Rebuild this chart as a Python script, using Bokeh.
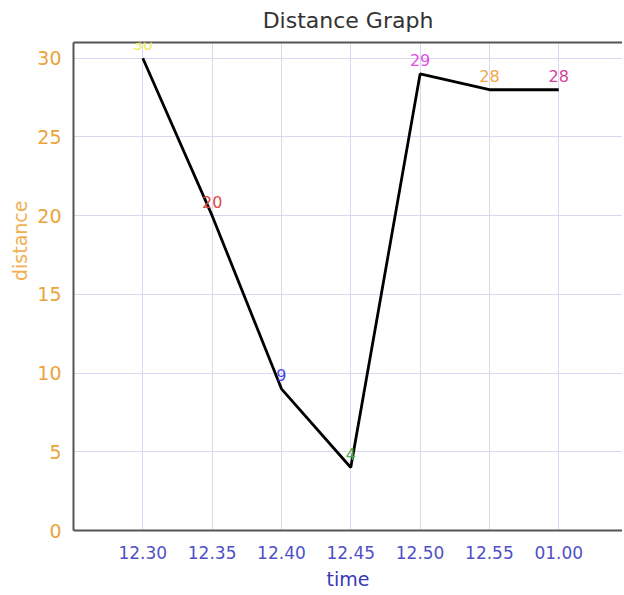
from bokeh.plotting import figure
from bokeh.models import ColumnDataSource, FixedTicker, LinearAxis, Range1d, LabelSet, Title
from bokeh.core.properties import value
from bokeh.embed import file_html
from bokeh.resources import INLINE

times = ["12.30", "12.35", "12.40", "12.45", "12.50", "12.55", "01.00"]
distance = [30, 20, 9, 4, 29, 28, 28]
label_colors = ["#EEEE55", "#E04848", "#4A4AE0", "#4CA64C", "#E050E0", "#F0A848", "#D0449A"]

idx = list(range(len(times)))
src = ColumnDataSource(dict(x=idx, y=distance, txt=[str(v) for v in distance], c=label_colors))

FONT = "DejaVu Sans"

p = figure(frame_width=549, frame_height=488, output_backend="svg", toolbar_location=None,
           x_range=Range1d(-1, 6.92), y_range=Range1d(0, 31),
           min_border_left=73, min_border_right=0, min_border_top=0, min_border_bottom=0,
           title="Distance Graph")
p.outline_line_color = None
p.background_fill_color = "white"
p.border_fill_color = "white"

p.title.align = "center"
p.title.vertical_align = "top"
p.title.text_font = FONT
p.title.text_font_size = "22px"
p.title.text_font_style = "normal"
p.title.text_color = "#333333"
p.title.offset = 0
p.title.standoff = 15

p.line("x", "y", source=src, line_color="black", line_width=2.8)
labels = LabelSet(x="x", y="y", text="txt", source=src, text_color="c", text_align="center",
                  text_baseline="bottom", y_offset=8, text_font=value(FONT), text_font_size="16px")
p.add_layout(labels)

p.xaxis.ticker = FixedTicker(ticks=idx)
p.xaxis.major_label_overrides = {i: t for i, t in zip(idx, times)}
p.yaxis.ticker = FixedTicker(ticks=[0, 5, 10, 15, 20, 25, 30])

p.xaxis.axis_label = "time"

for ax in (p.xaxis[0], p.yaxis[0]):
    ax.major_tick_line_color = None
    ax.minor_tick_line_color = None
    ax.axis_line_color = "#555555"
    ax.axis_line_width = 2
    ax.major_label_text_font = FONT
    ax.major_label_text_font_size = "17px"
    ax.axis_label_text_font = FONT
    ax.axis_label_text_font_size = "19px"
    ax.axis_label_text_font_style = "normal"

p.yaxis.major_label_text_font_size = "19px"
p.xaxis.major_label_text_color = "#5050C8"
p.xaxis.axis_label_text_color = "#3838B8"
p.yaxis.major_label_text_color = "#EAA43C"
p.xaxis.major_label_standoff = 9
p.xaxis.axis_label_standoff = 6
p.yaxis.major_label_standoff = 6

ylab = Title(text="distance", align="right", offset=158, text_font=FONT, text_font_size="19px",
             text_font_style="normal", text_color="#F0B050", standoff=8)
p.add_layout(ylab, "left")

top = LinearAxis(ticker=FixedTicker(ticks=[]), major_tick_line_color=None, minor_tick_line_color=None,
                 major_label_text_font_size="0px", axis_line_color="#555555", axis_line_width=2)
p.add_layout(top, "above")

p.xgrid.grid_line_color = "#D8D8F2"
p.ygrid.grid_line_color = "#D8D8F2"
p.xgrid.grid_line_width = 1
p.ygrid.grid_line_width = 1

open("out.html", "w").write(file_html(p, INLINE))
